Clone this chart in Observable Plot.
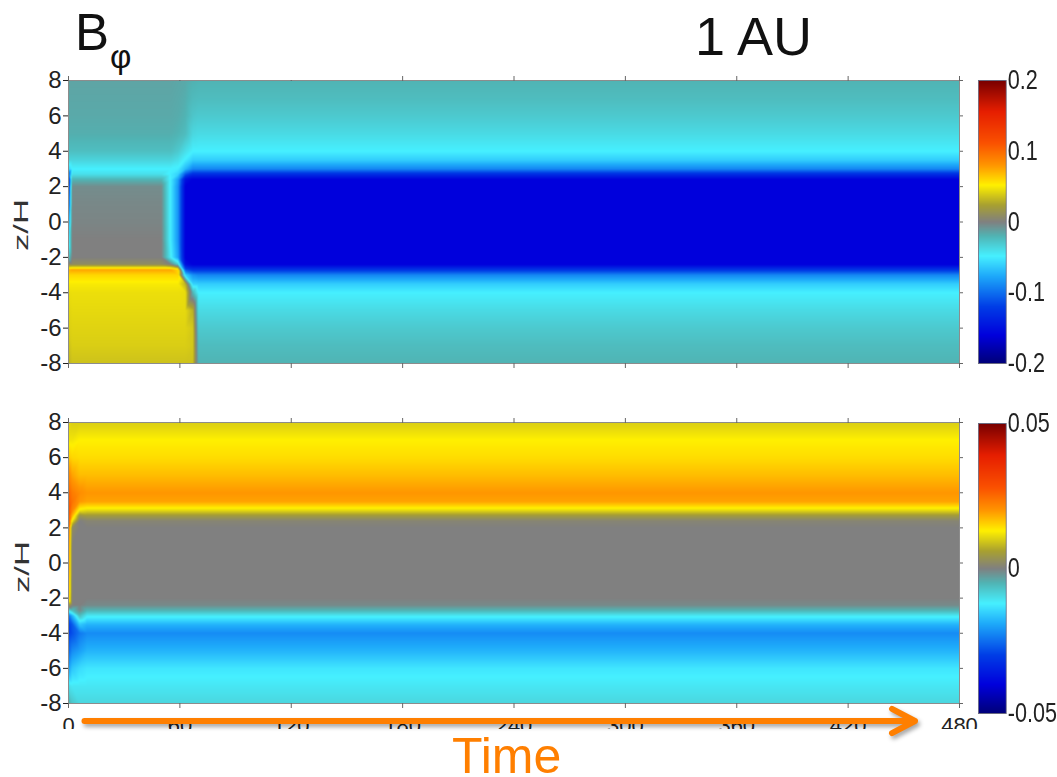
<!DOCTYPE html>
<html>
<head>
<meta charset="utf-8">
<script src="https://cdn.jsdelivr.net/npm/d3@7"></script>
<script src="https://cdn.jsdelivr.net/npm/@observablehq/plot@0.6"></script>
<style>
  html, body { margin: 0; padding: 0; background: #fff; }
  body { width: 1057px; height: 777px; position: relative; overflow: hidden; font-family: "Liberation Sans", Arial, sans-serif; }
  .abs { position: absolute; }
  .ylab { position: absolute; font-size: 21px; color: #333; white-space: nowrap; transform: translate(-50%, -50%) rotate(-90deg) scale(1.65, 1); }
  .cbar { width: 121px; transform: scaleX(0.8); transform-origin: 0 0; }
  svg { max-width: none !important; }
</style>
</head>
<body>
<div id="title-b" class="abs" style="left:75px; top:3px; font-size:51px; line-height:normal; color:#111;">B</div>
<div id="title-phi" class="abs" style="left:110px; top:38px; font-size:33px; line-height:normal; color:#111;">φ</div>
<div id="title-au" class="abs" style="left:695px; top:5px; font-size:54px; line-height:normal; color:#111;">1 AU</div>

<div id="top" class="abs" style="left:0; top:0; width:970px;"></div>
<div class="abs" style="left:137px; top:74px; width:243px; height:6px; background:#fff;"></div>

<div id="bottom" class="abs" style="left:0; top:392px; width:985px; height:337px; overflow:hidden;"></div>

<div id="topbar" class="abs cbar" style="left:960px; top:0;"></div>
<div id="botbar" class="abs cbar" style="left:960px; top:392px;"></div>

<div class="ylab" style="left:21px; top:225px;">z/H</div>
<div class="ylab" style="left:22px; top:567px;">z/H</div>

<div id="arrow" class="abs" style="left:0; top:698px; width:970px; filter: drop-shadow(2px 3px 2px rgba(0,0,0,0.35));"></div>
<div class="abs" style="left:452px; top:727px; font-size:50px; line-height:normal; color:#ff7f00;">Time</div>

<script>
// ---------- data ----------
const zLevels = [-8, -7, -6, -5, -4, -3.5, -3, -2.7, -2.4, -2, -1, 0, 1, 2, 2.4, 2.7, 3, 3.5, 4, 5, 6, 7, 8];

// Top panel (B_phi), column profiles over zLevels
const topEdge  = [0.030, 0.035, 0.040, 0.042, 0.045, 0.050, 0.060, 0.070, 0.010, -0.030, -0.060, -0.090, -0.120, -0.140, -0.140, -0.110, -0.060, -0.035, -0.025, -0.018, -0.016, -0.015, -0.014];
const topEarly = [0.036, 0.040, 0.042, 0.044, 0.046, 0.050, 0.060, 0.075, 0.010, 0.000, 0.000, -0.002, -0.003, -0.005, -0.020, -0.040, -0.048, -0.035, -0.025, -0.018, -0.016, -0.015, -0.014];
const topT55   = [0.036, 0.040, 0.042, 0.044, 0.046, 0.050, 0.060, 0.075, 0.000, -0.045, -0.050, -0.050, -0.050, -0.050, -0.050, -0.050, -0.048, -0.035, -0.025, -0.018, -0.016, -0.015, -0.014];
const topT59   = [0.036, 0.040, 0.042, 0.044, 0.046, 0.050, 0.060, 0.060, -0.030, -0.080, -0.085, -0.085, -0.085, -0.085, -0.080, -0.060, -0.050, -0.040, -0.030, -0.020, -0.017, -0.016, -0.015];
const topT63   = [0.036, 0.040, 0.042, 0.044, 0.045, 0.030, -0.060, -0.110, -0.150, -0.160, -0.160, -0.160, -0.160, -0.160, -0.150, -0.110, -0.070, -0.050, -0.040, -0.024, -0.020, -0.018, -0.016];
const topT67   = [0.036, 0.038, 0.038, 0.030, -0.020, -0.060, -0.085, -0.125, -0.160, -0.160, -0.160, -0.160, -0.160, -0.160, -0.160, -0.130, -0.090, -0.062, -0.048, -0.036, -0.028, -0.023, -0.019];
const topLate  = [-0.020, -0.024, -0.030, -0.038, -0.048, -0.062, -0.090, -0.125, -0.160, -0.160, -0.160, -0.160, -0.160, -0.160, -0.160, -0.130, -0.090, -0.062, -0.048, -0.038, -0.030, -0.024, -0.020];
const topTimes    = [0, 2, 50, 55, 59, 63, 67, 70, 480];
const topProfiles = [topEdge, topEarly, topEarly, topT55, topT59, topT63, topT67, topLate, topLate];

// Bottom panel, column profiles over zLevels
const botEdge = [-0.004, -0.010, -0.020, -0.026, -0.030, -0.030, -0.025, -0.010, 0.005, 0.020, 0.022, 0.024, 0.025, 0.027, 0.028, 0.028, 0.028, 0.027, 0.026, 0.022, 0.016, 0.012, 0.011];
const botT2   = [-0.007, -0.011, -0.016, -0.022, -0.028, -0.027, -0.018, -0.006, 0.000, 0.000, 0.000, 0.000, 0.000, 0.002, 0.012, 0.018, 0.022, 0.024, 0.023, 0.019, 0.015, 0.012, 0.010];
const botT6   = [-0.009, -0.011, -0.014, -0.020, -0.024, -0.016, -0.006, -0.001, 0.000, 0.000, 0.000, 0.000, 0.000, 0.000, 0.000, 0.004, 0.012, 0.020, 0.021, 0.017, 0.0145, 0.013, 0.010];
const botLate = [-0.009, -0.011, -0.013, -0.018, -0.022, -0.018, -0.011, -0.005, -0.001, 0.000, 0.000, 0.000, 0.000, 0.000, 0.001, 0.005, 0.011, 0.019, 0.020, 0.017, 0.0145, 0.013, 0.010];
const botTimes    = [0, 2, 6, 10, 480];
const botProfiles = [botEdge, botT2, botT6, botLate, botLate];

// axes / colorbars
const timeTicks = [0, 60, 120, 180, 240, 300, 360, 420, 480];
const zTicks = [-8, -6, -4, -2, 0, 2, 4, 6, 8];
const topRange = [-0.2, 0.2];
const botRange = [-0.05, 0.05];
const topBarTicks = [-0.2, -0.1, 0, 0.1, 0.2];
const botBarTicks = [-0.05, 0, 0.05];
const timeArrow = [{t1: 8.6, t2: 456, lane: 0.5}];

// colormap (jet-like with grey at zero)
const cmapStops  = [0, 0.1, 0.2, 0.31, 0.38, 0.45, 0.5, 0.56, 0.63, 0.70, 0.78, 0.89, 1];
const cmapColors = ["#000078", "#0000dc", "#003ce6", "#1eaafa", "#46f0ff", "#50b4b4", "#808080", "#a8a030", "#fff000", "#ff9600", "#fa5000", "#e61e00", "#780000"];

// ---------- build ----------
const cmapScale = d3.scaleLinear().domain(cmapStops).range(cmapColors).interpolate(d3.interpolateRgb).clamp(true);
const cmap = t => cmapScale(t);

function rows(times, profiles) {
  const out = [];
  times.forEach((t, i) => profiles[i].forEach((v, j) => out.push({t, z: zLevels[j], v})));
  return out;
}
const topRows = rows(topTimes, topProfiles);
const botRows = rows(botTimes, botProfiles);

const baseStyle = {fontFamily: "'Liberation Sans', Arial, sans-serif", fontSize: "24px", color: "#222", background: "transparent", maxWidth: "none", overflow: "visible"};
const blank = () => "";
const plain = d => String(d);

function panel(data, range, height, marginTop, marginBottom, showXLabels) {
  return Plot.plot({
    width: 970, height, marginLeft: 68, marginRight: 11, marginTop, marginBottom,
    x: {domain: [0, 480], label: null},
    y: {domain: [-8, 8], label: null},
    color: {type: "linear", domain: range, interpolate: cmap, clamp: true},
    style: baseStyle,
    marks: [
      Plot.raster(data, {x: "t", y: "z", fill: "v", interpolate: "barycentric", x1: 0, x2: 480, y1: -8, y2: 8}),
      Plot.frame({stroke: "#8c8c8c"}),
      Plot.axisY(zTicks, {anchor: "left", tickSize: 5, tickPadding: 2, fontSize: 24, label: null, tickFormat: plain}),
      Plot.axisY(zTicks, {anchor: "right", tickSize: 3, tickFormat: blank, label: null, stroke: "#666"}),
      Plot.axisX(timeTicks, {anchor: "top", tickSize: 5, tickFormat: blank, label: null, stroke: "#666"}),
      Plot.axisX(timeTicks, {anchor: "bottom", tickSize: 5, tickPadding: 9, fontSize: 22, label: null, stroke: "#666",
        tickFormat: showXLabels ? plain : blank})
    ]
  });
}

// colorbars are drawn 1/0.8 wider, then condensed by the .cbar CSS scaleX(0.8)
function colorbar(range, ticks, height, marginTop, marginBottom) {
  return Plot.plot({
    width: 121, height, marginLeft: 22.5, marginRight: 63.75, marginTop, marginBottom,
    x: {domain: [0, 1], axis: null},
    y: {domain: range, label: null},
    color: {type: "linear", domain: range, interpolate: cmap, clamp: true},
    style: {...baseStyle, fontSize: "27px"},
    marks: [
      Plot.raster({x1: 0, x2: 1, y1: range[0], y2: range[1], fill: (x, y) => y}),
      Plot.frame({stroke: "#6a6a80"}),
      Plot.axisY(ticks, {anchor: "right", tickSize: 0, tickPadding: 2, fontSize: 27, label: null, tickFormat: plain})
    ]
  });
}

document.getElementById("top").append(panel(topRows, topRange, 392, 80, 29, false));
document.getElementById("bottom").append(panel(botRows, botRange, 380, 30, 69, true));
document.getElementById("topbar").append(colorbar(topRange, topBarTicks, 392, 80, 29));
document.getElementById("botbar").append(colorbar(botRange, botBarTicks, 330, 31, 9));

document.getElementById("arrow").append(Plot.plot({
  width: 970, height: 45, marginLeft: 68, marginRight: 11, marginTop: 0, marginBottom: 0,
  x: {domain: [0, 480], axis: null},
  y: {domain: [0, 1], axis: null},
  style: {background: "transparent", maxWidth: "none"},
  marks: [
    Plot.arrow(timeArrow, {x1: "t1", x2: "t2", y1: "lane", y2: "lane", stroke: "#ff7f00", strokeWidth: 6,
      headLength: 6.5, headAngle: 56, strokeLinecap: "round", strokeLinejoin: "round"})
  ]
}));
</script>
</body>
</html>
